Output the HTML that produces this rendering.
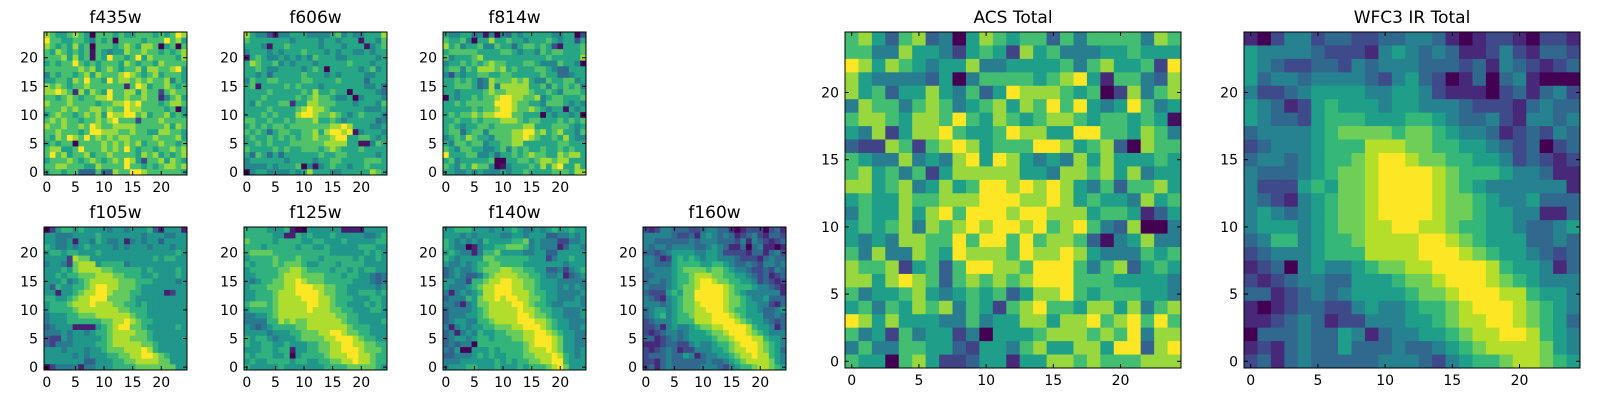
<!DOCTYPE html>
<html><head><meta charset="utf-8">
<style>
html,body{margin:0;padding:0;background:#fff;}
svg{display:block;font-family:"DejaVu Sans","Liberation Sans",sans-serif;}
</style></head>
<body>
<svg id="fig" width="1600" height="400" viewBox="0 0 1600 400" xmlns="http://www.w3.org/2000/svg"></svg>
<script>
// Pixel intensity levels (0-9), rows listed from y=24 (top) down to y=0
const f435w = ["8766787607776766777676798","9776677657670777767779786","8767686707776787688706707","7687676717656687787767678","7778686717697767968777768","6767797676777687677687777","7777778786787677868877896","5767767868777898767867776","6677687977697887878778576","8787677877777727986778767","8898728687697788687737877","7767876778897787787725786","8777877776778898977767887","7778787788787798877776706","6787767878698899786778676","7878776778789777377787777","8778778798778888777778687","7787776799888778776688776","7687987978787887777877786","6767707777878787867787767","7886679777878797677677878","7978677867787777687867678","6777876787678798637786876","7788777668777797767678878","6776774447448779987777776"];
const f606w = ["8655315566655556756556668","7666666656666566566616657","6665166766666566656661567","5666565666766656566556566","1676556565657666556666656","6876675656665666667666566","6676556666567606666656756","6656466666766656566665566","5766776666776666766664666","6716666767666566666665564","6666766666768667660666654","6667666667678776556056665","6576667726688777666566657","6666766667898876666665556","6667676668998778765676665","7766766767778667656666645","6767677677777778898666556","7676467766778689989156665","6766767676778778996677656","6676766677777788886611576","7666676766777678766676666","6476464666666766776666656","5666666566665667766667776","5555656667051567665667666","0566555565686665566666876"];
const f814w = ["6556645150546566666556603","7667506686676656667656636","8675667557664677676316667","6777776666776566576776667","7566678666666666667666668","5667676787766677655576650","6775768887867666776544666","5365667766776666676644566","6676764587778786557667756","6677764585888886675767675","6656666787788887667657776","0656676778998877856776667","6676777779998776657776565","6666676778998778765661656","6767787889997766606566560","6676676777888767766676767","6765667767777788666777656","6774677577778899786786657","5676876657778898766768655","6577677566778866666677666","7657766556757676676676766","9666775564667678776687886","6756666670066776788788666","7657687750156667686896686","6655656555656676666777688"];
const f105w = ["0256656555545545556315551","5544455556555555545554455","5544515546544514545535555","6544545655554545554555455","5665665556555555555555565","5555287755555555555656655","4554278885666645555555555","5556578888776666656555565","5565667778887766655655565","5556456788888777666555545","5365566789988777655555555","5515567889987776655551255","6655678899977776555555555","5666788898887766565555555","5666678888888776665555555","4555667778888887665555555","4555666666778898766555555","3455511115678997765555565","4445455456678888776555555","3225455555678887776555555","3244455556678888877655555","5554555455677788898655555","5555545455566778899876555","5555555335556677888877555","0244441445556666777777755"];
const f125w = ["6666555610055555511115555","6666655116565556555554456","7666656666556655565555566","6665666665665565555566655","6777766666666665555556565","5666676667666566666565565","6566676777655666566665555","5666667788766665665656655","5566667888777766656655434","5456677889877766666555434","5666777889998877665555545","5566678889999877665566656","5566678888999887666555665","6777678888899887665556565","5666678888898887766555665","4455678888888888776655555","4444668787788888876655556","5434566667788888887666555","5555455566777889987766555","6566545556777788999876655","6556655655566778899887766","5556656615566778899987776","6566655605666678889988766","5655666656655667788988766","6555556555555566667777765"];
const f140w = ["5566655545556544545655655","5554545555445545553344545","6545454655556674544422445","6544014556677764544413554","5654414667555544553355555","6545555776666665552455655","5445456677666655555554555","3454456777887766553342456","3454334678888776654451345","5544266788998877655544444","5444567889998877655545454","4145456889998887665544445","3444657889899887765544454","4431457788889987665445554","3444456788888988766554445","3444556788888998776554445","3455446678888999887655444","4145455667778899987655445","3414546556677788998765544","3455456656667788999875544","3434406666666678999875544","4350055565666678889875545","3344456565566677888986545","4445555556565667788996555","4555665556555656667897555"];
const f160w = ["2124433322344331012220231","4444432231454343123421332","4433333343444333241432123","4344344443345431130341101","3323455554455422221331342","4431256565455444322213433","4433356666556654334324434","3444456777767765443223243","3344456678887766554323123","3443456678998776655423212","4333456778999987666544321","3222565779999987654444441","4321456779999987765445333","4443456778999987765544213","3455456778899987665543345","3456456678889998765553343","2344456668889999876554323","2231454456778899998655413","2123443455567789998765444","3312343455556778999886554","1112332245445667899987654","2123431224445567889987653","2333433541344556788988654","2213433333343345678888754","2313433333444324566788765"];
const acsTotal = ["7864784506876774757777587","7755866536763867555667666","9868765668556666757866739","8655554605777767896277548","8674668657469888767038578","5877578756786879796569756","7887688797687678876776761","6583688976679886699776875","4338737898677799867840877","7655856589698656586866676","7867573688888665887868566","8867856867998989865747786","6766877888999889867665867","5766868979998998886776246","6767858789899897897548005","6565887797997978874156855","7585587698887988986555767","8778367479988799975784676","8868987478787899977766665","7566786567674688976777665","6757687857637897768868578","9868666557566886889789797","7563756635066678887879588","5755776643665786688699489","7660786334662668878777888"];
const wfc3Total = ["1024423322334431012210221","5444432221454343112421332","5432233243444333231432123","5344344443245320130341000","4223455554455421110231342","5431256555455444322213433","5433256665556654334214434","3444456777767765443123243","2344456668887766554323023","3443456678998776655423212","4333456778999987666544311","4222565778999987654444441","4321456778999987765445333","4543456778999987765544113","4555456778899887665543345","3466456678888998765553343","2344456668888999876554323","1230454456778899998655413","2123443355567789998765444","3312343455556778999886554","1012332245445667899987654","1123431224445567889987653","0333433541344556788998654","1213433533343345678888754","2313433333444324566788765"];
const tickValues = [0, 5, 10, 15, 20];

const viridisStops = [[68,1,84],[72,40,120],[62,74,137],[49,104,142],[38,130,142],[31,158,137],[53,183,121],[110,206,88],[181,222,43],[253,231,37]];
function viridis(t){
  t = Math.max(0, Math.min(1, t));
  const f = t*9, i = Math.min(8, Math.floor(f)), u = f - i;
  const a = viridisStops[i], b = viridisStops[i+1];
  return "rgb(" + a.map((v,k)=>Math.round(v+(b[k]-v)*u)).join(",") + ")";
}
const NS = "http://www.w3.org/2000/svg";
const svg = document.getElementById("fig");
function mk(tag, attrs, parent){ const e=document.createElementNS(NS,tag); for(const k in attrs) e.setAttribute(k,attrs[k]); (parent||svg).appendChild(e); return e; }

const panels = [
  {name:"f435w", data:f435w, x:44, y:32, s:143, g:1.4},
  {name:"f606w", data:f606w, x:244, y:32, s:143, g:1.3},
  {name:"f814w", data:f814w, x:443, y:32, s:143, g:1.3},
  {name:"f105w", data:f105w, x:44, y:227, s:143, g:1.1},
  {name:"f125w", data:f125w, x:244, y:227, s:143, g:1.1},
  {name:"f140w", data:f140w, x:443, y:227, s:143, g:1.05},
  {name:"f160w", data:f160w, x:643, y:227, s:143, g:1},
  {name:"ACS Total", data:acsTotal, x:845, y:32, s:336, g:1.45},
  {name:"WFC3 IR Total", data:wfc3Total, x:1244, y:32, s:336, g:1}
];

panels.forEach(p=>{
  const slug = p.name.toLowerCase().replace(/\s+/g,'-');
  const g = mk("g",{});
  
  
  const n = 25, c = p.s/n;
  const xs = v => p.x + (v+0.5)*c;
  const ys = v => p.y + p.s - (v+0.5)*c;
  for(let r=0;r<n;r++){
    const row = p.data[r]||"";
    const yv = n-1-r;
    for(let col=0; col<n; col++){
      let d = parseInt(row[col]); if(isNaN(d)) d=5;
      const rect = mk("rect",{x:(xs(col)-c/2).toFixed(2), y:(ys(yv)-c/2).toFixed(2), width:(c+0.4).toFixed(2), height:(c+0.4).toFixed(2), fill:viridis(Math.pow(d/9, p.g))}, g);
      
      
    }
  }
  const fr = mk("rect",{x:p.x, y:p.y, width:p.s, height:p.s, fill:"none", stroke:"#000", "stroke-width":1}, g);
  
  
  const tl = 4;
  tickValues.forEach(v=>{
    const X = xs(v), Y = ys(v);
    mk("line",{x1:X,y1:p.y+p.s,x2:X,y2:p.y+p.s-tl,stroke:"#000"},g);
    mk("line",{x1:X,y1:p.y,x2:X,y2:p.y+tl,stroke:"#000"},g);
    mk("line",{x1:p.x,y1:Y,x2:p.x+tl,y2:Y,stroke:"#000"},g);
    mk("line",{x1:p.x+p.s,y1:Y,x2:p.x+p.s-tl,y2:Y,stroke:"#000"},g);
    const tx = mk("text",{x:X, y:p.y+p.s+17, "text-anchor":"middle", "font-size":14, fill:"#000"}, g);
    tx.textContent = v;
    
    
    const ty = mk("text",{x:p.x-6, y:Y+5, "text-anchor":"end", "font-size":14, fill:"#000"}, g);
    ty.textContent = v;
    
    
  });
  const t = mk("text",{x:p.x+p.s/2, y:p.y-9, "text-anchor":"middle", "font-size":17, fill:"#000"}, g);
  t.textContent = p.name;
  
  
});
</script>
</body></html>
